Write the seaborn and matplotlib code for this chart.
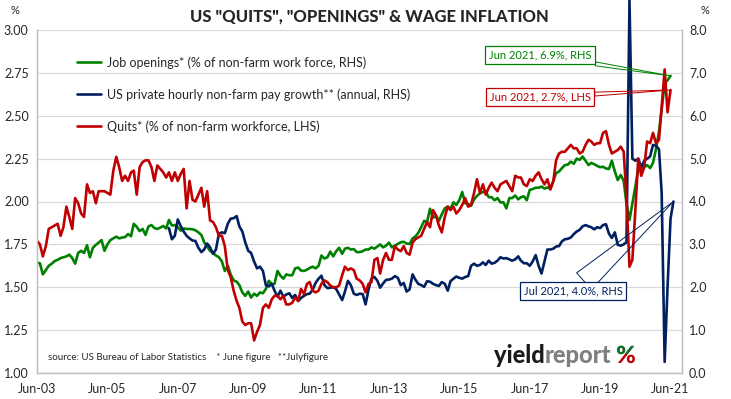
import numpy as np
import pandas as pd
import seaborn as sns
import matplotlib.pyplot as plt
import matplotlib.dates as mdates
from matplotlib.patches import Rectangle, PathPatch
from matplotlib.textpath import TextPath
from matplotlib.font_manager import FontProperties
from matplotlib.transforms import Affine2D

sns.set_style('white')
plt.rcParams['font.family'] = ['Lato', 'DejaVu Sans']

nan = np.nan

# monthly observations, Jun 2003 .. Jul 2021
months = pd.date_range('2003-06-01', '2021-07-01', freq='MS')

# quits, % of non-farm workforce (LHS)
quits = [
    1.77, 1.75, 1.68, 1.74, 1.84, 1.85, 1.86, 1.87, 1.80, 1.85, 1.97, 1.91,
    1.84, 2.02, 1.99, 1.93, 1.91, 2.10, 2.05, 2.06, 1.99, 2.06, 2.06, 2.06,
    2.05, 2.04, 2.18, 2.26, 2.20, 2.12, 2.15, 2.12, 2.17, 2.18, 2.04, 2.20,
    2.23, 2.24, 2.24, 2.20, 2.12, 2.21, 2.19, 2.17, 2.14, 2.17, 2.12, 2.17,
    2.12, 2.16, 2.19, 1.96, 2.12, 2.01, 2.00, 2.04, 2.08, 1.97, 2.06, 1.89,
    1.88, 1.85, 1.80, 1.80, 1.74, 1.60, 1.56, 1.48, 1.42, 1.38, 1.30, 1.28,
    1.29, 1.29, 1.19, 1.24, 1.28, 1.38, 1.40, 1.38, 1.43, 1.45, 1.45, 1.43,
    1.45, 1.40, 1.40, 1.41, 1.44, 1.42, 1.49, 1.46, 1.52, 1.53, 1.48, 1.47,
    1.48, 1.52, 1.54, 1.53, 1.51, 1.50, 1.50, 1.51, 1.57, 1.62, 1.60, 1.61,
    1.60, 1.55, 1.54, 1.52, 1.47, 1.52, 1.53, 1.66, 1.67, 1.58, 1.66, 1.70,
    1.66, 1.66, 1.74, 1.72, 1.71, 1.74, 1.70, 1.69, 1.76, 1.78, 1.79, 1.80,
    1.84, 1.88, 1.85, 1.95, 1.92, 1.86, 1.82, 1.91, 1.97, 1.95, 1.97, 1.93,
    1.95, 1.98, 2.02, 1.97, 1.98, 2.05, 2.13, 2.05, 2.10, 2.04, 2.08, 2.11,
    2.08, 2.06, 2.10, 2.11, 2.12, 2.09, 2.06, 2.15, 2.14, 2.14, 2.10, 2.09,
    2.13, 2.12, 2.15, 2.17, 2.13, 2.10, 2.13, 2.07, 2.12, 2.24, 2.28, 2.29,
    2.29, 2.31, 2.33, 2.31, 2.31, 2.28, 2.29, 2.33, 2.36, 2.35, 2.33, 2.34,
    2.34, 2.40, 2.41, 2.33, 2.28, 2.29, 2.30, 2.32, 2.29, 2.02, 1.62, 1.66,
    1.95, 2.25, 2.15, 2.20, 2.35, 2.34, 2.40, 2.34, 2.36, 2.55, 2.77, 2.52,
    2.65, nan,
]

# job openings, % of non-farm work force (RHS)
openings = [
    2.57, 2.56, 2.30, 2.40, 2.50, 2.55, 2.61, 2.64, 2.68, 2.70, 2.72, 2.76,
    2.68, 2.55, 2.80, 2.85, 2.80, 2.98, 2.70, 2.92, 2.99, 3.04, 3.10, 2.85,
    3.00, 3.10, 3.14, 3.18, 3.14, 3.16, 3.17, 3.24, 3.19, 3.48, 3.41, 3.31,
    3.36, 3.22, 3.42, 3.45, 3.38, 3.36, 3.39, 3.43, 3.37, 3.57, 3.44, 3.45,
    3.40, 3.32, 3.37, 3.36, 3.36, 3.35, 3.33, 3.28, 3.22, 3.05, 2.95, 2.85,
    2.80, 2.74, 2.70, 2.60, 2.38, 2.50, 2.30, 2.16, 2.13, 2.05, 1.88, 1.80,
    1.90, 1.76, 1.85, 1.80, 1.88, 1.86, 1.96, 2.15, 2.07, 2.08, 2.38, 2.27,
    2.20, 2.30, 2.28, 2.28, 2.44, 2.46, 2.39, 2.38, 2.41, 2.45, 2.48, 2.44,
    2.50, 2.74, 2.67, 2.70, 2.83, 2.72, 2.84, 2.92, 2.78, 2.90, 2.92, 2.88,
    2.89, 2.82, 2.82, 2.84, 2.88, 2.88, 2.93, 2.90, 2.95, 3.00, 2.93, 2.97,
    3.04, 2.93, 2.97, 3.01, 3.05, 3.06, 3.02, 3.01, 3.14, 3.18, 3.27, 3.40,
    3.55, 3.52, 3.83, 3.62, 3.67, 3.55, 3.70, 3.84, 3.88, 3.83, 3.98, 3.92,
    4.03, 4.22, 3.96, 3.94, 3.90, 4.05, 4.13, 4.19, 4.22, 4.23, 4.10, 4.10,
    4.03, 4.08, 3.98, 3.98, 3.84, 4.08, 4.08, 4.14, 4.05, 4.10, 4.12, 4.03,
    4.27, 4.29, 4.32, 4.32, 4.35, 4.30, 4.33, 4.30, 4.48, 4.66, 4.70, 4.78,
    4.85, 4.86, 4.93, 4.88, 5.00, 4.97, 5.05, 4.95, 4.85, 4.90, 4.87, 4.83,
    4.80, 4.81, 4.77, 4.76, 4.95, 4.70, 4.50, 4.62, 4.48, 3.95, 3.57, 3.95,
    4.35, 4.77, 4.72, 4.80, 4.85, 4.78, 4.90, 5.22, 5.63, 6.15, 6.75, 6.83,
    6.93, nan,
]

# private hourly non-farm pay growth, % y/y (RHS), starts Mar 2007
pay_growth = [nan] * 45 + [
    3.38, 3.12, 3.20,
    3.58, 3.43, 3.30, 3.20, 3.14, 3.09, 3.08, 2.92, 2.82, 2.88, 3.02, 2.93,
    2.78, 2.88, 3.25, 3.28, 3.26, 3.48, 3.60, 3.61, 3.66, 3.42, 3.30, 3.05,
    2.85, 2.80, 2.60, 2.44, 2.48, 2.38, 2.05, 2.02, 2.08, 1.92, 1.78, 1.92,
    1.78, 1.83, 1.86, 1.75, 1.82, 1.68, 1.75, 1.80, 1.84, 1.85, 1.94, 2.10,
    2.20, 2.27, 2.05, 1.98, 1.99, 2.00, 1.96, 1.83, 1.70, 1.90, 2.15, 2.05,
    1.85, 1.82, 1.85, 1.84, 1.60, 1.95, 2.20, 2.24, 2.15, 1.99, 2.09, 2.17,
    2.18, 2.20, 2.26, 2.22, 2.05, 2.10, 1.90, 1.95, 2.30, 2.18, 2.08, 2.05,
    2.01, 2.14, 2.13, 2.08, 2.05, 2.03, 2.12, 2.08, 1.92, 2.14, 2.20, 2.25,
    2.22, 2.20, 2.24, 2.26, 2.50, 2.55, 2.50, 2.52, 2.58, 2.52, 2.62, 2.55,
    2.57, 2.62, 2.70, 2.67, 2.68, 2.65, 2.62, 2.65, 2.72, 2.62, 2.56, 2.56,
    2.50, 2.60, 2.75, 2.50, 2.32, 2.60, 2.88, 2.88, 2.90, 2.95, 2.96, 3.07,
    3.12, 3.13, 3.16, 3.24, 3.30, 3.34, 3.42, 3.45, 3.42, 3.40, 3.35, 3.40,
    3.38, 3.45, 3.47, 3.25, 3.15, 3.28, 2.99, 2.97, 3.00, 3.05, 8.70, 5.00,
    4.95, 5.00, 4.80, 4.95, 5.00, 5.05, 5.32, 5.30, 5.22, 4.20, 0.26, 2.00,
    3.60, 4.00,
]

labels = ['Job openings* (% of non-farm work force, RHS)',
          'US private hourly non-farm pay growth** (annual, RHS)',
          'Quits* (% of non-farm workforce, LHS)']
colors = ['#008000', '#002060', '#C00000']
xtick_dates = pd.date_range('2003-06-01', '2021-06-01', freq='24MS')
left_ticks = [1.00, 1.25, 1.50, 1.75, 2.00, 2.25, 2.50, 2.75, 3.00]
right_ticks = [0, 1, 2, 3, 4, 5, 6, 7, 8]

df = pd.DataFrame({'date': months, 'quits': quits,
                   'openings': openings, 'pay': pay_growth})

W, H = 731, 399
fig = plt.figure(figsize=(W / 100, H / 100), dpi=100)
ax = fig.add_axes([37 / W, 26 / H, 645 / W, 343 / H])
ax2 = ax.twinx()

sns.lineplot(data=df, x='date', y='openings', ax=ax2, color=colors[0],
             lw=1.9, estimator=None, label=labels[0], legend=False)
sns.lineplot(data=df, x='date', y='pay', ax=ax2, color=colors[1],
             lw=1.9, estimator=None, label=labels[1], legend=False)
sns.lineplot(data=df, x='date', y='quits', ax=ax, color=colors[2],
             lw=1.9, estimator=None, label=labels[2], legend=False)
ax2.lines[1].set_clip_on(False)

# red series drawn on top
ax.set_zorder(ax2.get_zorder() + 1)
ax.patch.set_visible(False)

ax.set_xlim(months[0], pd.Timestamp('2021-09-28'))
ax.set_ylim(1, 3)
ax2.set_ylim(0, 8)
ax.set_yticks(left_ticks)
ax.set_yticklabels([f'{v:.2f}' for v in left_ticks])
ax2.set_yticks(right_ticks)
ax2.set_yticklabels([f'{v:.1f}' for v in right_ticks])
ax.set_xticks(xtick_dates)
ax.xaxis.set_major_formatter(mdates.DateFormatter('%b-%y'))
ax.set_xlabel('')
ax.set_ylabel('')
ax2.set_ylabel('')

ax.grid(False)
ax2.grid(axis='y', color='#d9d9d9', lw=0.9)
ax2.grid(axis='x', visible=False)
ax.tick_params(axis='x', length=4, color='#bfbfbf', width=0.8, pad=3, labelsize=9)
ax.tick_params(axis='y', length=0, pad=6, labelsize=9)
ax2.tick_params(axis='y', length=0, pad=5, labelsize=9)
for a in (ax, ax2):
    a.spines['top'].set_visible(False)
    for side in ('left', 'right', 'bottom'):
        a.spines[side].set_color('#bfbfbf')
        a.spines[side].set_linewidth(0.9)

handles = [ax2.lines[0], ax2.lines[1], ax.lines[0]]
fig.legend(handles, labels, loc='upper left', bbox_to_anchor=(66 / W, 1 - 45 / H),
           frameon=False, fontsize=9, handlelength=1.9, handletextpad=0.5,
           labelspacing=1.55)

fig.text(0.505, 1 - 16 / H, 'US "QUITS", "OPENINGS" & WAGE INFLATION',
         ha='center', va='center', fontsize=12, fontweight='black')
fig.text(15 / W, 1 - 11 / H, '%', ha='center', va='center', fontsize=8)
fig.text(705 / W, 1 - 11 / H, '%', ha='center', va='center', fontsize=8)


def callout(x, y, trans, text, color, pos, tw):
    ax.annotate(text, xy=(mdates.date2num(x), y), xycoords=trans, xytext=pos,
                textcoords='figure pixels', ha='center', va='center',
                fontsize=8, color=color, zorder=10, annotation_clip=False,
                bbox=dict(boxstyle='square,pad=0.35', fc='white', ec=color, lw=0.9),
                arrowprops=dict(arrowstyle=f'wedge,tail_width={tw}', fc='none',
                                ec=color, lw=0.7, shrinkA=0, shrinkB=0))


callout(months[216], openings[216], ax2.transData, 'Jun 2021, 6.9%, RHS',
        colors[0], (540, H - 55), 0.35)
callout(months[216], quits[216], ax.transData, 'Jun 2021, 2.7%, LHS',
        colors[2], (540, H - 97), 0.35)
callout(months[217], pay_growth[217], ax2.transData, 'Jul 2021, 4.0%, RHS',
        colors[1], (573, H - 291), 2.0)

fig.text(48 / W, 1 - 357 / H,
         'source: US Bureau of Labor Statistics    * June figure   **Julyfigure',
         ha='left', va='center', fontsize=7)

# logo
renderer = fig.canvas.get_renderer()
t1 = fig.text(494 / W, 1 - 363 / H, 'yield', fontsize=17, fontweight='black',
              color='#1a1a1a', va='baseline')
x1 = t1.get_window_extent(renderer).x1
t2 = fig.text(x1 / W, 1 - 363 / H, 'report', fontsize=17, fontweight='black',
              color='#7f7f7f', va='baseline')
x2 = t2.get_window_extent(renderer).x1 + 5

pct = TextPath((0, 0), '%', size=17, prop=FontProperties(family='Lato', weight='black'))
pct_trans = (Affine2D().scale(1 / 72).translate(x2 / 100, (H - 363) / 100)
             + fig.dpi_scale_trans)
fig.add_artist(PathPatch(pct, fc='#C00000', ec='none', transform=pct_trans))
green_part = PathPatch(pct, fc='#007a33', ec='none', transform=pct_trans)
fig.add_artist(green_part)
green_part.set_clip_path(Rectangle((-5, 6.5), 40, 40, transform=pct_trans))

fig.savefig('out.png', dpi=100)
